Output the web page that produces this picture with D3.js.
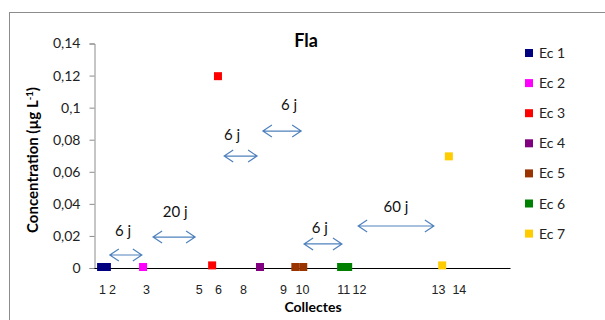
<!DOCTYPE html>
<html><head><meta charset="utf-8">
<script src="https://cdn.jsdelivr.net/npm/d3@7"></script>
<style>body{margin:0;background:#fff}svg{display:block}</style>
</head><body>
<svg id="c" width="605" height="320"></svg>
<script>
// ---- data ----
const seriesNames = ["Ec 1","Ec 2","Ec 3","Ec 4","Ec 5","Ec 6","Ec 7"];
const seriesColors = ["#000080","#FF00FF","#FF0000","#800080","#993300","#008000","#FFCC00"];
const ec1X = [1.7, 3.1],   ec1Y = [0, 0];
const ec2X = [11.8],       ec2Y = [0];
const ec3X = [28.4, 29.8], ec3Y = [0.001, 0.119];
const ec4X = [39.9],       ec4Y = [0];
const ec5X = [48.4, 50.3], ec5Y = [0, 0];
const ec6X = [59.4, 61.1], ec6Y = [0, 0];
const ec7X = [83.7, 85.3], ec7Y = [0.001, 0.069];
const xTickLabels = ["1","2","3","5","6","8","9","10","11","12","13","14"];
const xTickPos = [1.9, 4.3, 12.5, 25.2, 29.8, 35.8, 45.4, 50.0, 59.9, 63.7, 82.7, 87.7];
const yTicks = [0, 0.02, 0.04, 0.06, 0.08, 0.1, 0.12, 0.14];
// interval annotations
const gapLabels = ["6 j","20 j","6 j","6 j","6 j","60 j"];
const gapX1 = [3.8, 14.2, 31.3, 40.6, 50.5, 63.5];
const gapX2 = [11.5, 24.3, 39.2, 49.8, 59.6, 81.7];
const gapY  = [0.0081, 0.0193, 0.0698, 0.0854, 0.0150, 0.0262];
const gapLabelX = [7.0, 19.5, 33.2, 46.9, 54.3, 72.6];
const gapLabelY = [0.020, 0.0318, 0.0798, 0.0985, 0.0218, 0.0349];

const seriesX = [ec1X, ec2X, ec3X, ec4X, ec5X, ec6X, ec7X];
const seriesY = [ec1Y, ec2Y, ec3Y, ec4Y, ec5Y, ec6Y, ec7Y];

// ---- chart ----
const svg = d3.select("#c");
const F = "Lato, 'Open Sans', sans-serif";
svg.append("rect").attr("x",9.5).attr("y",12.5).attr("width",620).attr("height",330)
  .attr("fill","#fff").attr("stroke","#8c8c8c");

const x = d3.scaleLinear().domain([0,100]).range([94,510]);
const y = d3.scaleLinear().domain([0,0.14]).range([268,43.5]);
const loc = d3.formatLocale({decimal:",", thousands:" ", grouping:[3], currency:["",""]});
const fmt = loc.format("~g");

// y axis
const ya = svg.append("g").attr("transform","translate(94.5,0)")
  .call(d3.axisLeft(y).tickValues(yTicks).tickFormat(fmt).tickSize(5).tickPadding(9));
ya.select(".domain").attr("stroke","#8c8c8c");
ya.selectAll(".tick line").attr("stroke","#8c8c8c");
ya.selectAll("text").attr("font-family",F).attr("font-size",14).attr("fill","#222");

// x axis
const xa = svg.append("g").attr("transform","translate(0,268)")
  .call(d3.axisBottom(x).tickValues(xTickPos).tickFormat((d,i)=>xTickLabels[i]).tickSize(0).tickPadding(17));
xa.select(".domain").attr("stroke","#000");
xa.selectAll("text").attr("font-family","'Liberation Sans', Arial, sans-serif").attr("font-size",12.5).attr("fill","#222");

// titles
svg.append("text").attr("x",306).attr("y",47).attr("text-anchor","middle")
  .attr("font-family",F).attr("font-weight","bold").attr("font-size",18).text("Fla");
svg.append("text").attr("x",313).attr("y",312).attr("text-anchor","middle")
  .attr("font-family",F).attr("font-weight","bold").attr("font-size",14).text("Collectes");
const yt = svg.append("text").attr("transform","translate(38,160) rotate(-90)").attr("text-anchor","middle")
  .attr("font-family",F).attr("font-weight","bold").attr("font-size",15);
yt.append("tspan").text("Concentration (µg L");
yt.append("tspan").attr("dy",-5).attr("font-size",9.5).text("-1");
yt.append("tspan").attr("dy",5).text(")");

// gap arrows
const ag = svg.append("g").attr("stroke","#4F81BD").attr("stroke-width",1.2).attr("fill","none");
gapLabels.forEach((lab,i)=>{
  const x1 = x(gapX1[i]), x2 = x(gapX2[i]), yy = y(gapY[i]);
  ag.append("path").attr("d",`M${x1},${yy}H${x2}M${x1+9},${yy-6}L${x1},${yy}L${x1+9},${yy+6}M${x2-9},${yy-6}L${x2},${yy}L${x2-9},${yy+6}`);
  svg.append("text").attr("x",x(gapLabelX[i])).attr("y",y(gapLabelY[i])).attr("text-anchor","middle")
    .attr("font-family",F).attr("font-size",15).attr("fill","#111").text(lab);
});

// markers
const ms = 8;
seriesNames.forEach((n,si)=>{
  svg.append("g").selectAll("rect").data(seriesX[si].map((v,k)=>({x:v,y:seriesY[si][k]})))
    .join("rect").attr("x",d=>x(d.x)-ms/2).attr("y",d=>y(d.y)-ms/2-1)
    .attr("width",ms).attr("height",ms).attr("fill",seriesColors[si]);
});

// legend
const lg = svg.append("g").attr("transform","translate(525,49)");
seriesNames.forEach((n,i)=>{
  const g = lg.append("g").attr("transform",`translate(0,${i*30.1})`);
  g.append("rect").attr("width",8).attr("height",8).attr("fill",seriesColors[i]);
  g.append("text").attr("x",14).attr("y",9).attr("font-family",F).attr("font-size",14).attr("fill","#222").text(n);
});
</script>
</body></html>
